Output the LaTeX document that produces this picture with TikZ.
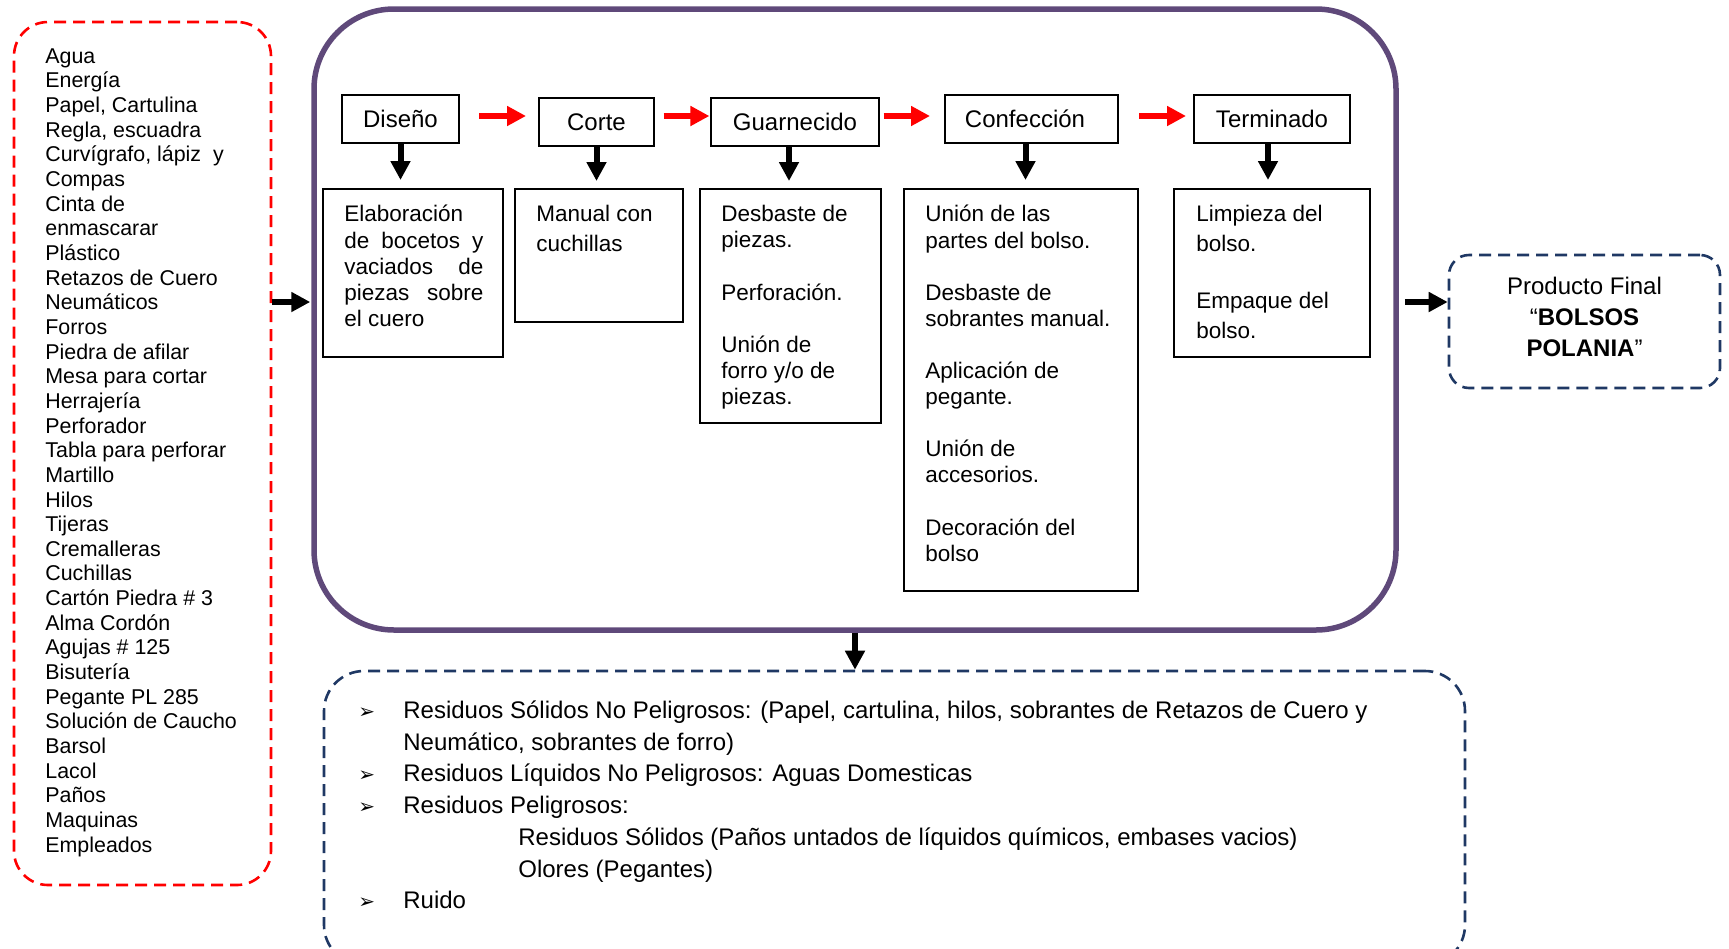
\documentclass[tikz,border=0pt]{standalone}
\usepackage{fontspec}
\setmainfont{Liberation Sans}
\newfontfamily\dejavu{DejaVu Sans}
\usetikzlibrary{arrows.meta}

\definecolor{morado}{RGB}{95,73,122}
\definecolor{azulosc}{RGB}{31,56,100}
\definecolor{rojo}{RGB}{255,0,0}

\newcommand{\vineta}{\makebox[22.5pt][l]{\dejavu\fontsize{10}{10}\selectfont ➢}}

\begin{document}
\begin{tikzpicture}[x=0.5pt, y=-0.5pt,
	titulo/.style={draw, line width=1pt, inner sep=0pt, minimum height=24pt, font=\fontsize{12}{14}\selectfont},
	detalle/.style={draw, line width=1pt, inner sep=0pt},
	texto/.style={anchor=north west, inner sep=0pt, align=left, font=\fontsize{11.25}{13.05}\selectfont},
	rayado/.style={dashed, dash pattern=on 6pt off 3.5pt, line width=1.3pt},
	flecha/.style={line width=3pt, -{Triangle[length=9.5pt, width=9.5pt]}},
	flecharoja/.style={flecha, draw=rojo}]
	\useasboundingbox (0,0) rectangle (1729,948);
	\clip (0,0) rectangle (1729,948);

	\node[draw=rojo, rayado, rounded corners=17pt, minimum width=128.5pt, minimum height=431.5pt] (insumos) at (142.5,453.5) {};
	\node[texto, font=\fontsize{10.7}{12.33}\selectfont] (lista) at (45,48) {Agua\\Energía\\Papel, Cartulina\\Regla, escuadra\\Curvígrafo, lápiz \ y\\Compas\\Cinta de\\enmascarar\\Plástico\\Retazos de Cuero\\Neumáticos\\Forros\\Piedra de afilar\\Mesa para cortar\\Herrajería\\Perforador\\Tabla para perforar\\Martillo\\Hilos\\Tijeras\\Cremalleras\\Cuchillas\\Cartón Piedra \# 3\\Alma Cordón\\Agujas \# 125\\Bisutería\\Pegante PL 285\\Solución de Caucho\\Barsol\\Lacol\\Paños\\Maquinas\\Empleados};

	\node[draw=morado, line width=2.75pt, rounded corners=40pt, minimum width=541pt, minimum height=310.5pt] (proceso) at (855,319.5) {};

	\node[titulo, minimum width=58.5pt] (disenio) at (400.5,119) {Diseño};
	\node[titulo, minimum width=57.5pt] (corte) at (596.5,122) {Corte};
	\node[titulo, minimum width=84pt] (guarnecido) at (795,122) {Guarnecido};
	\node[titulo, minimum width=86.5pt] (confeccion) at (1031.5,119) {\hspace*{-6.5pt}Confección};
	\node[titulo, minimum width=78pt] (terminado) at (1272,119) {Terminado};

	\node[detalle, minimum width=90pt, minimum height=84pt] (elaboracion) at (413,273) {};
	\node[detalle, minimum width=84pt, minimum height=66.5pt] (manual) at (599,255.5) {};
	\node[detalle, minimum width=90.5pt, minimum height=117pt] (desbaste) at (790.5,306) {};
	\node[detalle, minimum width=117pt, minimum height=201pt] (union) at (1021,390) {};
	\node[detalle, minimum width=98pt, minimum height=84pt] (limpieza) at (1272,273) {};

	\node[texto] (t1) at (344,205) {Elaboración\\\makebox[69.5pt][s]{de bocetos y}\\\makebox[69.5pt][s]{vaciados de}\\\makebox[69.5pt][s]{piezas sobre}\\el cuero};
	\node[texto, font=\fontsize{11.25}{15}\selectfont] (t2) at (536,205) {Manual con\\cuchillas};
	\node[texto] (t3) at (721,205) {Desbaste de\\piezas.\\[13.05pt]Perforación.\\[13.05pt]Unión de\\forro y/o de\\piezas.};
	\node[texto] (t4) at (925,205) {Unión de las\\partes del bolso.\\[13.05pt]Desbaste de\\sobrantes manual.\\[13.05pt]Aplicación de\\pegante.\\[13.05pt]Unión de\\accesorios.\\[13.05pt]Decoración del\\bolso};
	\node[texto, font=\fontsize{11.25}{15}\selectfont] (t5) at (1196,205) {Limpieza del\\bolso.\\[13.3pt]Empaque del\\bolso.};

	\coordinate (fila) at (0,116);
	\draw[flecharoja, shorten <=9.5pt, shorten >=6pt] (disenio.east |- fila) -- (corte.west |- fila);
	\draw[flecharoja, shorten <=4.3pt, shorten >=0.3pt] (corte.east |- fila) -- (guarnecido.west |- fila);
	\draw[flecharoja, shorten <=1.8pt, shorten >=7pt] (guarnecido.east |- fila) -- (confeccion.west |- fila);
	\draw[flecharoja, shorten <=10pt, shorten >=3.5pt] (confeccion.east |- fila) -- (terminado.west |- fila);

	\draw[flecha, shorten >=4pt] (disenio.south) -- (disenio.south |- elaboracion.north);
	\draw[flecha, shorten >=3.5pt] (corte.south) -- (corte.south |- manual.north);
	\draw[flecha, shorten >=3.5pt] ([xshift=-3pt]guarnecido.south) -- ([xshift=-3pt]guarnecido.south |- desbaste.north);
	\draw[flecha, shorten >=4pt] ([xshift=-3pt]confeccion.south) -- ([xshift=-3pt]confeccion.south |- union.north);
	\draw[flecha, shorten >=4pt] ([xshift=-2pt]terminado.south) -- ([xshift=-2pt]terminado.south |- limpieza.north);

	\node[draw=azulosc, rayado, rounded corners=10pt, minimum width=135.5pt, minimum height=66.5pt] (producto) at (1584.5,321.5) {};
	\node[align=center, inner sep=0pt, font=\fontsize{12}{15.5}\selectfont] (final) at ([yshift=2.5pt]producto.center) {Producto Final\\“\textbf{BOLSOS}\\\textbf{POLANIA}”};

	\node[draw=azulosc, rayado, rounded corners=20pt, minimum width=570.5pt, minimum height=147pt] (residuos) at (894.5,818) {};
	\node[texto, font=\fontsize{12}{15.85}\selectfont] (lista2) at (358,700.5) {\vineta Residuos Sólidos No Peligrosos: (Papel, cartulina, hilos, sobrantes de Retazos de Cuero y\\\hspace*{22.5pt}Neumático, sobrantes de forro)\\\vineta Residuos Líquidos No Peligrosos: Aguas Domesticas\\\vineta Residuos Peligrosos:\\\hspace*{80pt}Residuos Sólidos (Paños untados de líquidos químicos, embases vacios)\\\hspace*{80pt}Olores (Pegantes)\\\vineta Ruido};

	\coordinate (nivel) at (0,302);
	\draw[flecha, shorten >=0.5pt] (insumos.east |- nivel) -- (proceso.west |- nivel);
	\draw[flecha, shorten <=3pt] (proceso.east |- nivel) -- (producto.west |- nivel);
	\draw[flecha] (proceso.south) -- (proceso.south |- residuos.north);
\end{tikzpicture}
\end{document}
